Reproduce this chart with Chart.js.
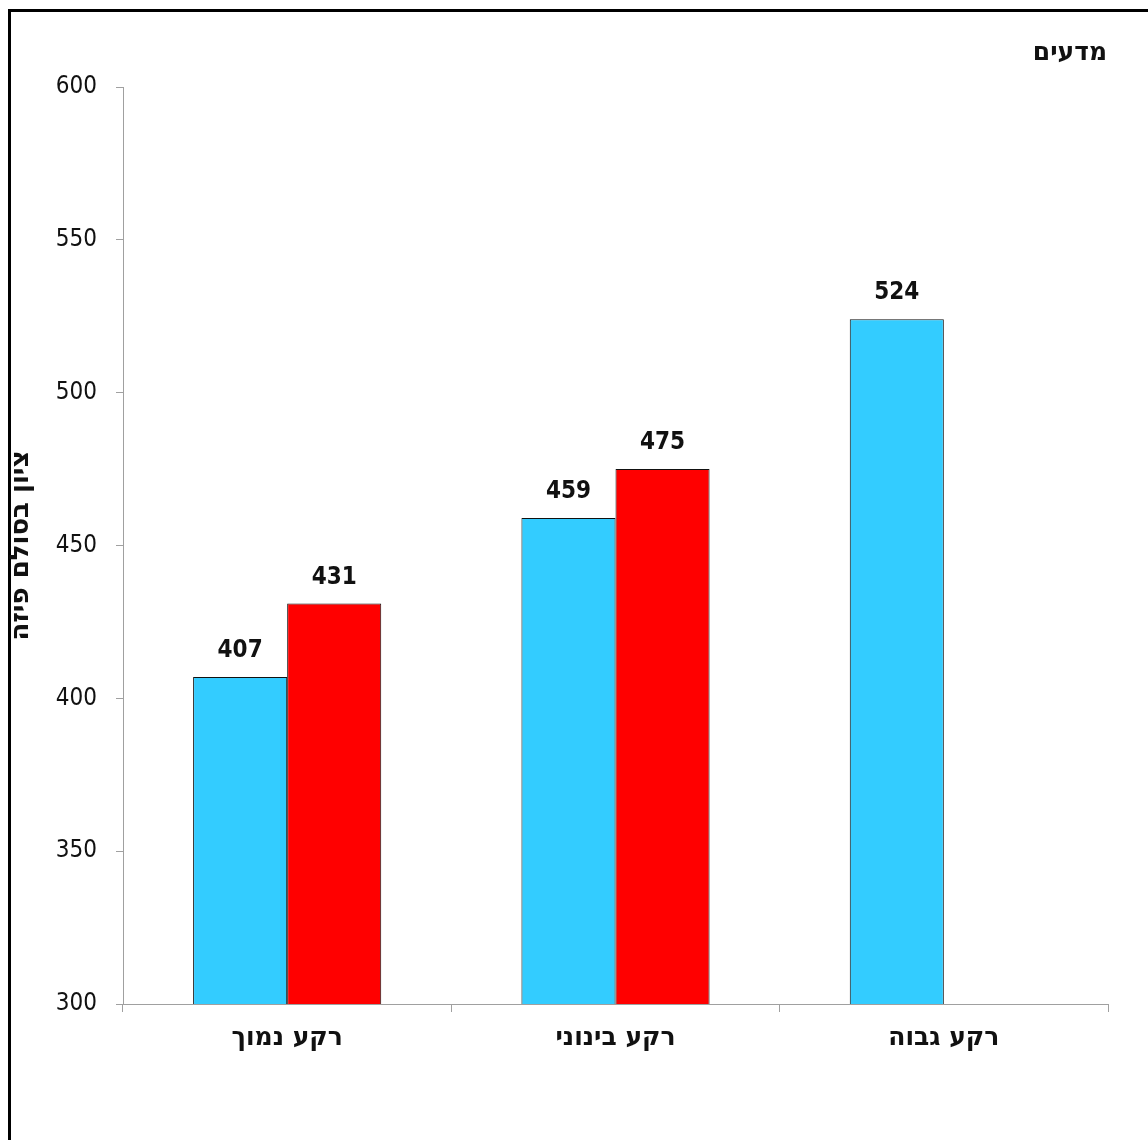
<!DOCTYPE html>
<html>
<head>
<meta charset="utf-8">
<script src="https://cdn.jsdelivr.net/npm/chart.js@4/dist/chart.umd.min.js"></script>
<style>
  html, body { margin: 0; padding: 0; background: #fff; overflow: hidden; }
  #frame { position: absolute; left: 8px; top: 9px; width: 1300px; height: 1300px; border: 3px solid #000; box-sizing: border-box; }
  #wrap { position: absolute; left: 0; top: 0; width: 1148px; height: 1140px; }
</style>
</head>
<body>
<div id="frame"></div>
<div id="wrap"><canvas id="c" width="1148" height="1140"></canvas></div>
<script>
const categories = ['רקע נמוך', 'רקע בינוני', 'רקע גבוה'];
const seriesA = [407, 459, 524];
const seriesB = [431, 475, null];
const yTicks = [300, 350, 400, 450, 500, 550, 600];
const chartTitle = 'מדעים';
const yTitle = 'ציון בסולם פיזה';

const FONT = '"DejaVu Sans Condensed", "DejaVu Sans", sans-serif';
const HFONT = '"DejaVu Sans", sans-serif';

const labelPlugin = {
  id: 'valueLabels',
  afterDatasetsDraw(chart) {
    const ctx = chart.ctx;
    ctx.save();
    ctx.font = 'bold 24px ' + FONT;
    ctx.fillStyle = '#111';
    ctx.textAlign = 'center';
    ctx.textBaseline = 'alphabetic';
    chart.data.datasets.forEach((ds, i) => {
      const meta = chart.getDatasetMeta(i);
      meta.data.forEach((bar, j) => {
        const v = ds.data[j];
        if (v === null || v === undefined) return;
        ctx.fillText(String(v), bar.x, bar.y - 20);
      });
    });
    ctx.restore();
  },
  afterDraw(chart) {
    const ctx = chart.ctx;
    ctx.save();
    ctx.font = 'bold 25px ' + HFONT;
    ctx.fillStyle = '#111';
    ctx.textAlign = 'right';
    ctx.textBaseline = 'alphabetic';
    ctx.fillText(chartTitle, 1107, 60);
    ctx.restore();
  }
};

new Chart(document.getElementById('c'), {
  type: 'bar',
  data: {
    labels: categories,
    datasets: [
      { data: seriesA, backgroundColor: '#33CCFF', borderColor: '#111', borderWidth: 1 },
      { data: seriesB, backgroundColor: '#FF0000', borderColor: '#111', borderWidth: 1 }
    ]
  },
  options: {
    responsive: false,
    animation: false,
    devicePixelRatio: 1,
    layout: { padding: { left: 0, top: 87, right: 40, bottom: 0 } },
    plugins: { legend: { display: false }, tooltip: { enabled: false }, title: { display: false } },
    datasets: { bar: { categoryPercentage: 0.573, barPercentage: 1.0 } },
    scales: {
      x: {
        offset: true,
        afterFit(s) { s.height = 136; },
        grid: { display: true, drawOnChartArea: false, drawTicks: true, tickLength: 8, offset: true, color: '#a0a0a0', tickColor: '#a0a0a0' },
        border: { display: true, color: '#a0a0a0', width: 1 },
        ticks: { color: '#111', font: { family: HFONT, size: 25, weight: 'bold' }, padding: 11, maxRotation: 0 }
      },
      y: {
        min: 300, max: 600,
        afterFit(s) { s.width = 123; },
        afterBuildTicks(s) { s.ticks = yTicks.map(v => ({ value: v })); },
        grid: { display: true, drawOnChartArea: false, drawTicks: true, tickLength: 7, color: '#a0a0a0', tickColor: '#a0a0a0' },
        border: { display: true, color: '#a0a0a0', width: 1 },
        ticks: { color: '#111', font: { family: FONT, size: 24 }, padding: 19 },
        title: { display: true, text: yTitle, color: '#111', font: { family: HFONT, size: 26, weight: 'bold' }, padding: { top: 6, bottom: 0 } }
      }
    }
  },
  plugins: [labelPlugin]
});
</script>
</body>
</html>
